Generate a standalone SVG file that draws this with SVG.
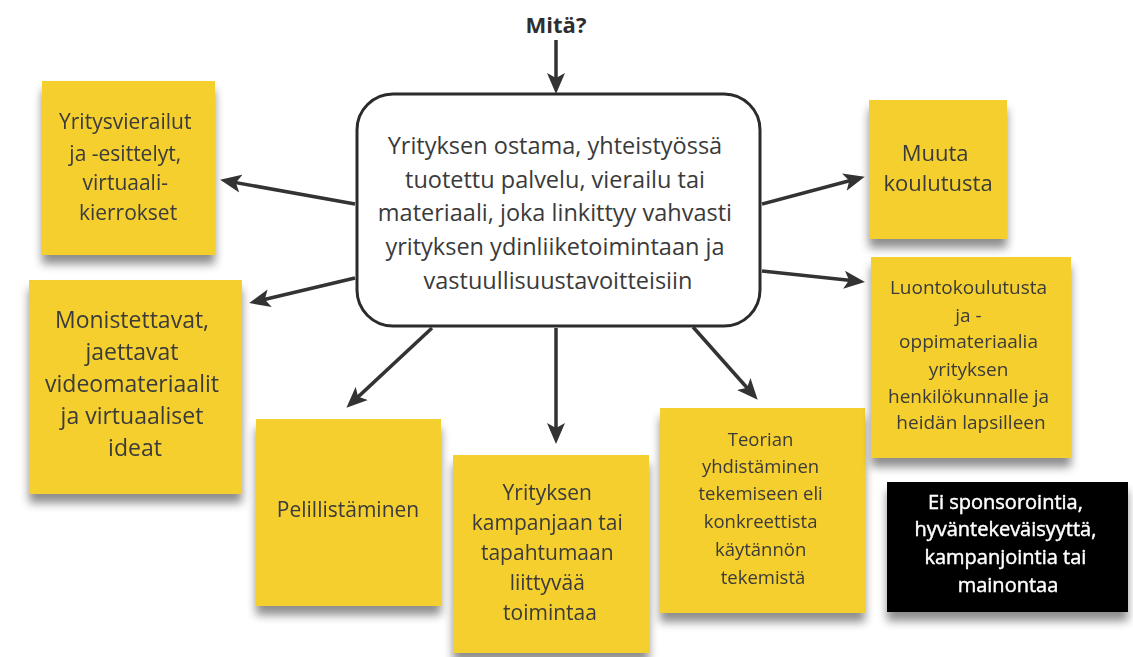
<svg xmlns="http://www.w3.org/2000/svg" width="1133" height="657" viewBox="0 0 1133 657">
<defs>
<style>
.t{font-family:"Open Sans","Noto Sans","Liberation Sans",sans-serif;fill:#3a3a3a;text-anchor:middle}
.note{fill:#f4cf2e}
.c{stroke:#333;stroke-width:3.5;fill:none;marker-end:url(#ah)}
</style>
<marker id="ah" markerUnits="userSpaceOnUse" markerWidth="22" markerHeight="20" refX="12" refY="9" orient="auto" viewBox="0 0 22 18">
<path d="M0,0 L21,9 L0,18 L5,9 z" fill="#333"/>
</marker>
<filter id="sh" x="-20%" y="-20%" width="140%" height="150%">
<feGaussianBlur in="SourceAlpha" stdDeviation="5"/>
<feOffset dx="0" dy="9" result="b"/>
<feComponentTransfer><feFuncA type="linear" slope="0.45"/></feComponentTransfer>
<feMerge><feMergeNode/><feMergeNode in="SourceGraphic"/></feMerge>
</filter>
<linearGradient id="yg" x1="0" y1="0" x2="0" y2="1">
<stop offset="0" stop-color="#f3cd2a"/>
<stop offset="1" stop-color="#f5d43a"/>
</linearGradient>
</defs>
<rect width="1133" height="657" fill="#fff"/>

<g id="title">
<text class="t" x="556" y="33" font-size="22" font-weight="bold" style="fill:#2e2e2e">Mitä?</text>
</g>

<g id="center">
<rect x="357" y="94" width="403" height="232" rx="36" fill="#fff" stroke="#2b2b2b" stroke-width="3"/>
<text class="t" font-size="23.5" fill="#333">
<tspan x="558" y="154">Yrityksen ostama, yhteistyössä</tspan>
<tspan x="558" y="188">tuotettu palvelu, vierailu tai</tspan>
<tspan x="558" y="221">materiaali, joka linkittyy vahvasti</tspan>
<tspan x="558" y="255">yrityksen ydinliiketoimintaan ja</tspan>
<tspan x="558" y="289">vastuullisuustavoitteisiin</tspan>
</text>
</g>

<g id="n1" filter="url(#sh)">
<rect class="note" x="42" y="81" width="173" height="174" fill="url(#yg)"/>
<text class="t" font-size="21">
<tspan x="128" y="129">Yritysvierailut</tspan>
<tspan x="128" y="161">ja -esittelyt,</tspan>
<tspan x="128" y="190">virtuaali-</tspan>
<tspan x="128" y="220">kierrokset</tspan>
</text>
</g>

<g id="n2" filter="url(#sh)">
<rect class="note" x="29" y="280" width="213" height="214" fill="url(#yg)"/>
<text class="t" font-size="23">
<tspan x="135" y="328">Monistettavat,</tspan>
<tspan x="135" y="360">jaettavat</tspan>
<tspan x="135" y="392">videomateriaalit</tspan>
<tspan x="135" y="424">ja virtuaaliset</tspan>
<tspan x="135" y="456">ideat</tspan>
</text>
</g>

<g id="n3" filter="url(#sh)">
<rect class="note" x="256" y="419" width="185" height="187" fill="url(#yg)"/>
<text class="t" font-size="21" x="348" y="517">Pelillistäminen</text>
</g>

<g id="n4" filter="url(#sh)">
<rect class="note" x="453" y="455" width="196" height="198" fill="url(#yg)"/>
<text class="t" font-size="21">
<tspan x="550" y="500">Yrityksen</tspan>
<tspan x="550" y="530">kampanjaan tai</tspan>
<tspan x="550" y="560">tapahtumaan</tspan>
<tspan x="550" y="590">liittyvää</tspan>
<tspan x="550" y="620">toimintaa</tspan>
</text>
</g>

<g id="n5" filter="url(#sh)">
<rect class="note" x="660" y="408" width="205" height="205" fill="url(#yg)"/>
<text class="t" font-size="18.5">
<tspan x="763" y="446">Teorian</tspan>
<tspan x="763" y="473">yhdistäminen</tspan>
<tspan x="763" y="500">tekemiseen eli</tspan>
<tspan x="763" y="528">konkreettista</tspan>
<tspan x="763" y="556">käytännön</tspan>
<tspan x="763" y="584">tekemistä</tspan>
</text>
</g>

<g id="n6" filter="url(#sh)">
<rect class="note" x="869" y="100" width="138" height="139" fill="url(#yg)"/>
<text class="t" font-size="22">
<tspan x="938" y="161">Muuta</tspan>
<tspan x="938" y="191">koulutusta</tspan>
</text>
</g>

<g id="n7" filter="url(#sh)">
<rect class="note" x="871" y="257" width="200" height="201" fill="url(#yg)"/>
<text class="t" font-size="19">
<tspan x="971" y="294">Luontokoulutusta</tspan>
<tspan x="971" y="322">ja -</tspan>
<tspan x="971" y="348">oppimateriaalia</tspan>
<tspan x="971" y="376">yrityksen</tspan>
<tspan x="971" y="403">henkilökunnalle ja</tspan>
<tspan x="971" y="429">heidän lapsilleen</tspan>
</text>
</g>

<g id="n8" filter="url(#sh)">
<rect x="887" y="482" width="241" height="130" fill="#000"/>
<text class="t" font-size="20" style="fill:#fff;stroke:#fff;stroke-width:0.45">
<tspan x="1008" y="509">Ei sponsorointia,</tspan>
<tspan x="1008" y="536">hyväntekeväisyyttä,</tspan>
<tspan x="1008" y="564">kampanjointia tai</tspan>
<tspan x="1008" y="592">mainontaa</tspan>
</text>
</g>

<g id="connectors">
<line class="c" x1="556" y1="40" x2="556" y2="85"/>
<line class="c" x1="355" y1="204" x2="229" y2="181.4"/>
<line class="c" x1="355" y1="278" x2="258" y2="301"/>
<line class="c" x1="432" y1="328" x2="353" y2="401.6"/>
<line class="c" x1="556" y1="328" x2="556" y2="435"/>
<line class="c" x1="693" y1="327" x2="751.7" y2="393"/>
<line class="c" x1="762" y1="204" x2="856" y2="179"/>
<line class="c" x1="762" y1="271" x2="856" y2="281"/>
</g>
</svg>
